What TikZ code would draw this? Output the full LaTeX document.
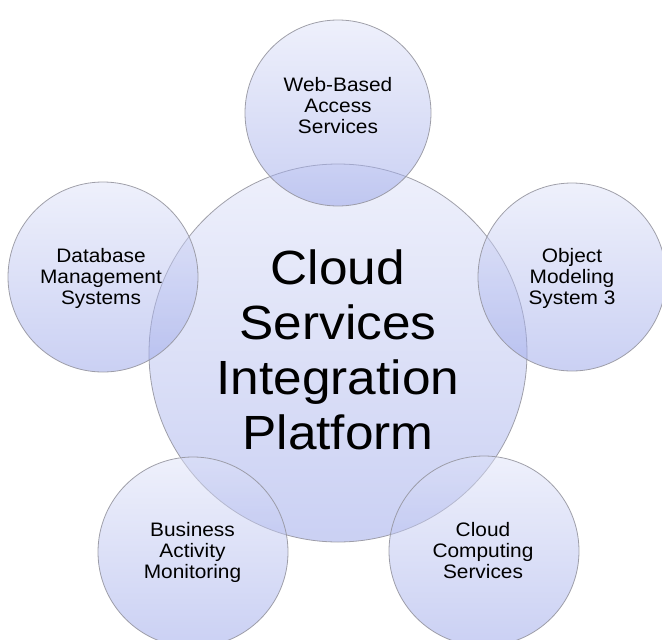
\documentclass[tikz,border=0pt]{standalone}
\usepackage{fontspec}
\setmainfont{Liberation Sans}[FakeStretch=1.07]
\definecolor{ctop}{RGB}{222,226,248}
\definecolor{cbot}{RGB}{150,162,232}
\definecolor{cline}{RGB}{150,150,160}
\begin{document}
\begin{tikzpicture}[x=1pt,y=-1pt,
  bubble/.style={circle, draw=cline, line width=0.8pt, top color=ctop, bottom color=cbot,
    fill opacity=0.5, draw opacity=0.9, inner sep=0pt},
  small/.style={align=center, font=\fontsize{19.5}{21}\selectfont, text=black},
  big/.style={align=center, font=\fontsize{48}{55}\selectfont, text=black}]
\useasboundingbox (0,0) rectangle (662,640);
\clip (0,0) rectangle (662,640);
\node[bubble, minimum size=378pt] (core) at (338,353) {};
\node[bubble, minimum size=186pt] (web) at (338,113) {};
\node[bubble, minimum size=190pt] (db) at (103,277) {};
\node[bubble, minimum size=188pt] (oms) at (572,277) {};
\node[bubble, minimum size=190pt] (bam) at (193,552) {};
\node[bubble, minimum size=190pt] (ccs) at (484,551) {};
\node[big] (coretext) at (338,350) {Cloud\\Services\\Integration\\Platform};
\node[small] (webtext) at (338,105.5) {Web-Based\\Access\\Services};
\node[small] (dbtext) at (101,278) {Database\\Management\\Systems};
\node[small] (omstext) at (572,278) {Object\\Modeling\\System 3};
\node[small] (bamtext) at (192.5,552) {Business\\Activity\\Monitoring};
\node[small] (ccstext) at (483,550.5) {Cloud\\Computing\\Services};
\end{tikzpicture}
\end{document}
